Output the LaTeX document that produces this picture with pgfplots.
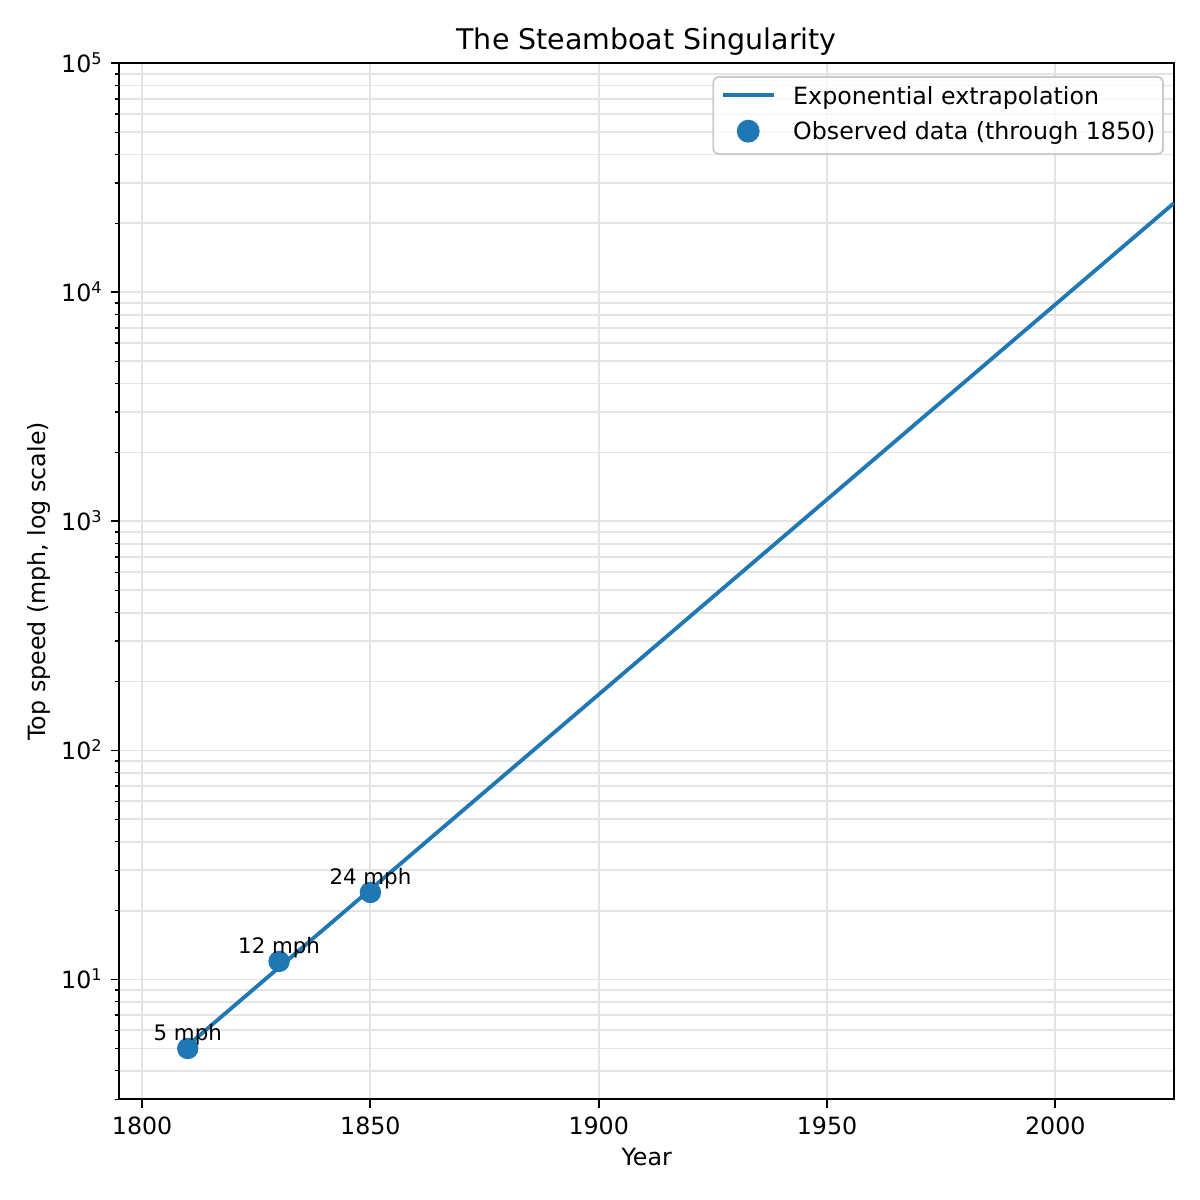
\documentclass[border=0pt]{standalone}
\usepackage{fontspec}
\setmainfont{DejaVu Sans}
\usepackage{pgfplots}
\usepackage{pgfplotstable}
\pgfplotsset{compat=1.18}
\definecolor{c0}{HTML}{1F77B4}
\definecolor{gridc}{RGB}{228,228,228}
\definecolor{legc}{HTML}{CCCCCC}
\newcommand{\pw}[1]{10\raisebox{3.2bp}{\fontsize{6.8}{7}\selectfont #1}}

\pgfplotstableread[col sep=comma]{
x,y,label
1810,5,5 mph
1830,12,12 mph
1850,24,24 mph
}\obsdata

\pgfplotstableread{
x y
1810 5.155
2026 24540
}\fitdata

\begin{document}
\begin{tikzpicture}
\begin{axis}[
  at={(0,0)}, anchor=south west,
  width=443bp, height=435.1bp, scale only axis,
  xmin=1795, xmax=2026,
  ymode=log, ymin=3, ymax=100000,
  xtick={1800,1850,1900,1950,2000},
  ytick={10,100,1000,10000,100000},
  yticklabels={\pw{1},\pw{2},\pw{3},\pw{4},\pw{5}},
  minor ytick={3,4,5,6,7,8,9,20,30,40,50,60,70,80,90,200,300,400,500,600,700,800,900,2000,3000,4000,5000,6000,7000,8000,9000,20000,30000,40000,50000,60000,70000,80000,90000},
  /pgf/number format/1000 sep={},
  /pgf/number format/assume math mode=true,
  xtick pos=left, ytick pos=left,
  tick align=outside,
  major tick length=3.5bp, minor tick length=2bp,
  every tick/.style={black, line width=0.8bp},
  every minor tick/.style={black, line width=0.6bp},
  axis line style={line width=0.8bp},
  grid=both,
  major grid style={gridc, line width=0.8bp},
  minor grid style={gridc, line width=0.8bp},
  tick label style={font=\fontsize{10}{12}\selectfont},
  xticklabel style={anchor=base, inner sep=0bp, yshift=-11.2bp},
  yticklabel style={anchor=base east, inner sep=0bp, xshift=-3.7bp, yshift=-3.65bp},
  title={The Steamboat Singularity},
  every axis title/.style={at={(axis description cs:0.5,1)}, anchor=base, yshift=5.6bp, font=\fontsize{12}{14}\selectfont},
  xlabel={Year},
  every axis x label/.style={at={(axis description cs:0.5,0)}, anchor=base, yshift=-28bp, font=\fontsize{10}{12}\selectfont},
  ylabel={Top speed (mph, log scale)},
  every axis y label/.style={at={([xshift=-30.8bp]axis description cs:0,0.5)}, rotate=90, anchor=base, font=\fontsize{10}{12}\selectfont},
  legend style={at={(axis description cs:1,1)}, anchor=north east, xshift=-4.2bp, yshift=-5.3bp,
    draw=legc, line width=0.8bp, rounded corners=2.5bp, fill=white, fill opacity=0.8, draw opacity=1, text opacity=1,
    inner xsep=3.2bp, inner ysep=4bp, row sep=4.3bp, column sep=7.4bp,
    font=\fontsize{10}{12}\selectfont,
    nodes={inner sep=0bp, text height=7.5bp, text depth=2.2bp},
    cells={anchor=base west}},
  legend cell align=left,
]
\addplot[c0, line width=1.6bp, no markers,
  legend image code/.code={\draw[c0, line width=1.6bp, draw opacity=1] (0bp,1.2bp) -- (21.4bp,1.2bp);}]
  table[x=x, y=y] {\fitdata};
\addlegendentry{Exponential extrapolation}
\addplot[only marks, mark=*, mark size=4.3bp, color=c0,
  point meta=explicit symbolic, nodes near coords,
  nodes near coords style={anchor=base, yshift=3.5bp, font=\fontsize{9}{11}\selectfont, text=black, inner sep=0bp},
  legend image code/.code={\fill[c0, fill opacity=1] (10.7bp,0.8bp) circle (4.4bp);}]
  table[x=x, y=y, meta=label] {\obsdata};
\addlegendentry{Observed data (through 1850)}
\end{axis}
\pgfresetboundingbox
\path (-50.1bp,-42.3bp) rectangle (453.9bp,461.7bp);
\end{tikzpicture}
\end{document}
